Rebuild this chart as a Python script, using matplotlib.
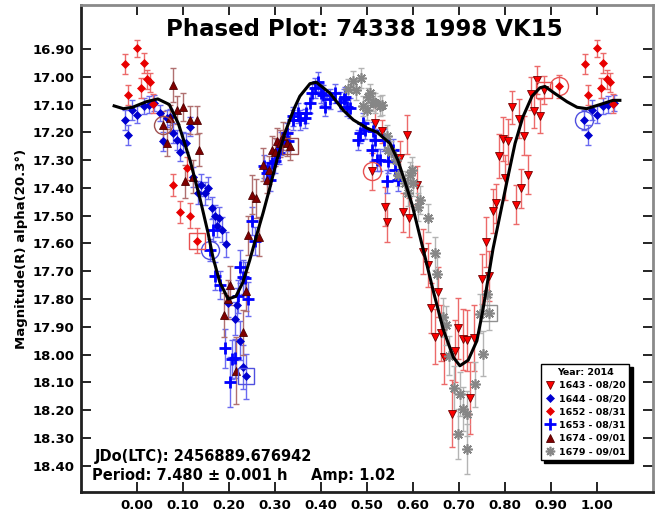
import numpy as np
import matplotlib.pyplot as plt
from matplotlib.lines import Line2D

plt.rcParams['font.family'] = 'DejaVu Sans'
plt.rcParams['font.weight'] = 'bold'

# session 1643 - 08/20 (red, triangle down)
s1643_phase = [0.510, 0.517, 0.532, 0.539, 0.544, 0.572, 0.578, 0.586, 0.592, 0.608,
               0.622, 0.633, 0.640, 0.648, 0.655, 0.660, 0.667, 0.684, 0.691, 0.697,
               0.709, 0.718, 0.724, 0.733, 0.751, 0.759, 0.766, 0.773, 0.780, 0.788,
               0.795, 0.800, 0.807, 0.816, 0.823, 0.830, 0.836, 0.841, 0.850, 0.857,
               0.863, 0.870, 0.876, 0.884]
s1643_mag = [17.341, 17.165, 17.197, 17.467, 17.523, 17.293, 17.487, 17.208, 17.507, 17.390,
             17.629, 17.678, 17.833, 17.935, 17.775, 17.923, 18.007, 18.212, 17.987, 17.905,
             17.944, 17.948, 18.157, 17.940, 17.727, 17.593, 17.717, 17.483, 17.455, 17.286,
             17.225, 17.363, 17.233, 17.110, 17.460, 17.151, 17.401, 17.213, 17.353, 17.061,
             17.124, 17.013, 17.141, 17.047]
s1643_err = [0.065, 0.060, 0.040, 0.070, 0.070, 0.060, 0.070, 0.070, 0.070, 0.070,
             0.080, 0.080, 0.090, 0.100, 0.090, 0.100, 0.100, 0.120, 0.110, 0.110,
             0.110, 0.110, 0.130, 0.120, 0.090, 0.090, 0.090, 0.080, 0.070, 0.080,
             0.080, 0.080, 0.080, 0.060, 0.070, 0.070, 0.070, 0.070, 0.070, 0.060,
             0.060, 0.050, 0.060, 0.050]

# session 1644 - 08/20 (blue, diamond)
s1644_phase = [0.973, 0.981, 0.989, 0.000, 0.014, 0.025, 0.037, 0.050, 0.056, 0.064,
               0.072, 0.079, 0.086, 0.093, 0.099, 0.107, 0.114, 0.121, 0.133, 0.140,
               0.148, 0.155, 0.162, 0.170, 0.173, 0.179, 0.184, 0.193, 0.197, 0.213,
               0.218, 0.224, 0.231, 0.237]
s1644_mag = [17.155, 17.210, 17.120, 17.137, 17.105, 17.100, 17.095, 17.130, 17.233, 17.150,
             17.145, 17.203, 17.227, 17.270, 17.235, 17.237, 17.180, 17.360, 17.417, 17.390,
             17.420, 17.400, 17.473, 17.500, 17.537, 17.510, 17.550, 17.603, 17.813, 17.870,
             17.820, 17.950, 18.045, 18.078]
s1644_err = [0.035, 0.035, 0.035, 0.030, 0.030, 0.030, 0.030, 0.030, 0.035, 0.030,
             0.030, 0.035, 0.035, 0.035, 0.035, 0.035, 0.035, 0.035, 0.040, 0.040,
             0.040, 0.040, 0.040, 0.040, 0.040, 0.040, 0.045, 0.045, 0.050, 0.060,
             0.060, 0.070, 0.080, 0.080]

# session 1652 - 08/31 (red, diamond)
s1652_phase = [0.974, 0.981, 0.000, 0.008, 0.014, 0.021, 0.028, 0.034, 0.079, 0.094,
               0.108, 0.115, 0.130, 0.917]
s1652_mag = [16.955, 17.065, 16.898, 17.040, 16.950, 17.010, 17.020, 17.097, 17.390, 17.487,
             17.330, 17.500, 17.590, 17.035]
s1652_err = [0.035, 0.035, 0.030, 0.035, 0.035, 0.035, 0.035, 0.035, 0.040, 0.040,
             0.040, 0.045, 0.045, 0.040]

# session 1653 - 08/31 (blue, plus)
s1653_phase = [0.159, 0.164, 0.170, 0.181, 0.191, 0.201, 0.206, 0.213, 0.220, 0.224,
               0.231, 0.235, 0.242, 0.249, 0.257, 0.275, 0.282, 0.289, 0.293, 0.300,
               0.304, 0.309, 0.314, 0.325, 0.329, 0.338, 0.340, 0.351, 0.354, 0.365,
               0.368, 0.376, 0.380, 0.387, 0.394, 0.400, 0.405, 0.409, 0.420, 0.430,
               0.441, 0.449, 0.452, 0.456, 0.463, 0.481, 0.485, 0.492, 0.496, 0.510,
               0.514, 0.517, 0.521, 0.528, 0.536, 0.543, 0.546, 0.557, 0.561, 0.568]
s1653_mag = [17.623, 17.550, 17.717, 17.750, 17.977, 18.097, 18.016, 18.013, 17.790, 17.683,
             17.720, 17.725, 17.800, 17.520, 17.590, 17.323, 17.347, 17.371, 17.311, 17.305,
             17.263, 17.275, 17.240, 17.203, 17.233, 17.155, 17.143, 17.130, 17.155, 17.150,
             17.131, 17.095, 17.060, 17.041, 17.018, 17.060, 17.065, 17.108, 17.080, 17.060,
             17.090, 17.080, 17.072, 17.108, 17.113, 17.227, 17.203, 17.167, 17.190, 17.263,
             17.197, 17.227, 17.300, 17.300, 17.227, 17.377, 17.305, 17.263, 17.335, 17.371]
s1653_err = [0.040, 0.040, 0.050, 0.050, 0.070, 0.090, 0.070, 0.070, 0.060, 0.060,
             0.060, 0.060, 0.060, 0.050, 0.050, 0.040, 0.040, 0.040, 0.040, 0.040,
             0.040, 0.040, 0.040, 0.035, 0.035, 0.035, 0.035, 0.035, 0.035, 0.035,
             0.035, 0.035, 0.035, 0.035, 0.035, 0.035, 0.035, 0.035, 0.035, 0.035,
             0.035, 0.035, 0.035, 0.035, 0.035, 0.035, 0.035, 0.035, 0.035, 0.040,
             0.035, 0.040, 0.040, 0.040, 0.040, 0.040, 0.040, 0.040, 0.040, 0.040]

# session 1674 - 09/01 (maroon, triangle up)
s1674_phase = [0.057, 0.064, 0.072, 0.079, 0.087, 0.100, 0.104, 0.114, 0.122, 0.130,
               0.135, 0.189, 0.197, 0.203, 0.215, 0.231, 0.237, 0.242, 0.250, 0.259,
               0.266, 0.273, 0.282, 0.286, 0.293, 0.300, 0.304, 0.311, 0.318, 0.327,
               0.333]
s1674_mag = [17.175, 17.237, 17.150, 17.030, 17.120, 17.110, 17.377, 17.155, 17.360, 17.157,
             17.262, 17.857, 17.800, 17.750, 18.058, 17.920, 17.772, 17.570, 17.425, 17.437,
             17.575, 17.317, 17.370, 17.335, 17.263, 17.270, 17.233, 17.240, 17.214, 17.237,
             17.250]
s1674_err = [0.050, 0.050, 0.050, 0.060, 0.050, 0.050, 0.060, 0.050, 0.060, 0.050,
             0.060, 0.080, 0.070, 0.070, 0.120, 0.080, 0.070, 0.070, 0.070, 0.070,
             0.070, 0.060, 0.050, 0.050, 0.050, 0.050, 0.050, 0.050, 0.050, 0.050,
             0.050]

# session 1679 - 09/01 (gray, asterisk)
s1679_phase = [0.459, 0.470, 0.477, 0.488, 0.492, 0.499, 0.503, 0.507, 0.514, 0.517,
               0.528, 0.532, 0.543, 0.546, 0.553, 0.564, 0.568, 0.583, 0.590, 0.593,
               0.597, 0.601, 0.612, 0.615, 0.633, 0.648, 0.653, 0.666, 0.672, 0.679,
               0.690, 0.697, 0.703, 0.709, 0.718, 0.717, 0.734, 0.745, 0.752, 0.760,
               0.766]
s1679_mag = [17.045, 17.014, 17.047, 17.005, 17.105, 17.119, 17.074, 17.060, 17.090, 17.095,
             17.105, 17.101, 17.215, 17.263, 17.270, 17.300, 17.353, 17.383, 17.419, 17.353,
             17.335, 17.383, 17.469, 17.443, 17.509, 17.635, 17.708, 17.866, 17.894, 18.004,
             18.121, 18.287, 18.142, 18.196, 18.212, 18.340, 18.107, 17.853, 17.996, 17.782,
             17.851]
s1679_err = [0.035, 0.035, 0.035, 0.035, 0.035, 0.035, 0.035, 0.035, 0.035, 0.035,
             0.035, 0.035, 0.040, 0.040, 0.040, 0.040, 0.040, 0.045, 0.045, 0.045,
             0.045, 0.045, 0.050, 0.050, 0.050, 0.060, 0.060, 0.070, 0.070, 0.070,
             0.080, 0.090, 0.080, 0.080, 0.080, 0.090, 0.080, 0.070, 0.080, 0.060,
             0.060]

# first / last points of sessions (circle = first, square = last)
circle_phase = [0.510, 0.973, 0.917, 0.159, 0.057]
circle_mag = [17.341, 17.155, 17.035, 17.623, 17.175]
circle_color = ['#e85050', '#5050e0', '#e85050', '#5050e0', '#a05050']
square_phase = [0.884, 0.237, 0.130, 0.333, 0.766]
square_mag = [17.047, 18.078, 17.590, 17.250, 17.851]
square_color = ['#e85050', '#5050e0', '#e85050', '#a05050', '#909090']

# Fourier fit curve
fit_phase = [-0.050, -0.030, -0.010, 0.020, 0.045, 0.070, 0.090, 0.115, 0.137, 0.154,
             0.165, 0.180, 0.198, 0.215, 0.230, 0.245, 0.260, 0.274, 0.287, 0.304,
             0.322, 0.340, 0.354, 0.376, 0.390, 0.420, 0.448, 0.470, 0.500, 0.522,
             0.550, 0.567, 0.583, 0.598, 0.622, 0.644, 0.666, 0.688, 0.702, 0.720,
             0.739, 0.752, 0.763, 0.774, 0.789, 0.804, 0.822, 0.839, 0.859, 0.876,
             0.887, 0.904, 0.935, 0.957, 0.978, 1.007, 1.035, 1.050]
fit_mag = [17.105, 17.115, 17.110, 17.090, 17.080, 17.100, 17.170, 17.300, 17.440, 17.560,
           17.650, 17.740, 17.800, 17.790, 17.740, 17.660, 17.570, 17.490, 17.410, 17.300,
           17.200, 17.120, 17.070, 17.025, 17.020, 17.060, 17.120, 17.155, 17.185, 17.200,
           17.240, 17.300, 17.380, 17.460, 17.620, 17.770, 17.910, 18.010, 18.040, 18.020,
           17.950, 17.840, 17.730, 17.620, 17.500, 17.380, 17.240, 17.145, 17.070, 17.040,
           17.035, 17.055, 17.090, 17.110, 17.115, 17.100, 17.085, 17.085]

x_ticks = [0.0, 0.1, 0.2, 0.3, 0.4, 0.5, 0.6, 0.7, 0.8, 0.9, 1.0]
y_ticks = [16.9, 17.0, 17.1, 17.2, 17.3, 17.4, 17.5, 17.6, 17.7, 17.8, 17.9, 18.0, 18.1, 18.2, 18.3, 18.4]


def wrap(phase, mag, err, lo=-0.05, hi=1.045):
    phase = np.asarray(phase, dtype=float)
    p = np.concatenate([phase, phase - 1, phase + 1])
    m = np.tile(np.asarray(mag, dtype=float), 3)
    e = np.tile(np.asarray(err, dtype=float), 3)
    keep = (p >= lo) & (p <= hi)
    return p[keep], m[keep], e[keep]


sessions = [
    (s1643_phase, s1643_mag, s1643_err, 'v', '#ff0000', '#700000', '#ec6a6a', 6, 0.6, '1643 - 08/20'),
    (s1644_phase, s1644_mag, s1644_err, 'D', '#0000d0', '#0000d0', '#6a6af0', 4.5, 0.5, '1644 - 08/20'),
    (s1652_phase, s1652_mag, s1652_err, 'D', '#e80000', '#e80000', '#ec6a6a', 4.5, 0.5, '1652 - 08/31'),
    (s1653_phase, s1653_mag, s1653_err, '+', '#0000ff', '#0000ff', '#6a6af0', 9, 2.0, '1653 - 08/31'),
    (s1674_phase, s1674_mag, s1674_err, '^', '#800000', '#500000', '#b07070', 6, 0.6, '1674 - 09/01'),
    (s1679_phase, s1679_mag, s1679_err, (8, 2, 0), '#868686', '#868686', '#b4b4b4', 7.5, 1.2, '1679 - 09/01'),
]

fig = plt.figure(figsize=(6.57, 5.15), dpi=100)
ax = fig.add_axes([0.1233, 0.0447, 0.8706, 0.9456])

handles = []
for ph, mg, er, mk, fc, ec, errc, ms, mew, lab in sessions:
    p, m, e = wrap(ph, mg, er)
    ax.errorbar(p, m, yerr=e, fmt='none', ecolor=errc, elinewidth=1.0, capsize=2.5, capthick=1.0, zorder=2)
    ax.plot(p, m, linestyle='none', marker=mk, markersize=ms, markerfacecolor=fc,
            markeredgecolor=ec, markeredgewidth=mew, color=fc, zorder=3)
    handles.append(Line2D([], [], linestyle='none', marker=mk, markersize=ms * 0.9,
                          markerfacecolor=fc, markeredgecolor=ec,
                          markeredgewidth=mew, color=fc, label=lab))

for cp, cm, cc in zip(circle_phase, circle_mag, circle_color):
    ax.plot(cp, cm, linestyle='none', marker='o', markersize=13, markerfacecolor='none',
            markeredgecolor=cc, markeredgewidth=1.0, zorder=4)
for sp, sm, sc in zip(square_phase, square_mag, square_color):
    ax.plot(sp, sm, linestyle='none', marker='s', markersize=12, markerfacecolor='none',
            markeredgecolor=sc, markeredgewidth=1.0, zorder=4)

ax.plot(fit_phase, fit_mag, color='black', linewidth=2.2, zorder=5)

ax.set_xlim(-0.122, 1.122)
ax.set_ylim(18.494, 16.742)
ax.set_xticks(x_ticks)
ax.set_xticklabels([f'{t:.2f}' for t in x_ticks], fontsize=9.5, fontweight='bold')
ax.set_yticks(y_ticks)
ax.set_yticklabels([f'{t:.2f}' for t in y_ticks], fontsize=9.5, fontweight='bold')
ax.tick_params(direction='in', length=7, width=1.2, top=True, right=True, pad=5)
ax.set_ylabel('Magnitude(R) alpha(20.3°)', fontsize=9.5, fontweight='bold', labelpad=3)

for side in ('left', 'bottom'):
    ax.spines[side].set_linewidth(2.0)
    ax.spines[side].set_color('#202020')
for side in ('top', 'right'):
    ax.spines[side].set_linewidth(2.0)
    ax.spines[side].set_color('#8a8a8a')

ax.text(0.495, 0.949, 'Phased Plot: 74338 1998 VK15', transform=ax.transAxes,
        ha='center', va='center', fontsize=16.5, fontweight='bold')
ax.text(0.0245, 0.072, 'JDo(LTC): 2456889.676942', transform=ax.transAxes,
        ha='left', va='center', fontsize=10.5, fontweight='bold')
ax.text(0.019, 0.033, 'Period: 7.480 ± 0.001 h', transform=ax.transAxes,
        ha='left', va='center', fontsize=10.5, fontweight='bold')
ax.text(0.402, 0.033, 'Amp: 1.02', transform=ax.transAxes,
        ha='left', va='center', fontsize=10.5, fontweight='bold')

leg = ax.legend(handles=handles, title='Year: 2014', loc='lower right',
                bbox_to_anchor=(0.962, 0.062), fontsize=6.8, title_fontsize=6.8,
                frameon=True, fancybox=False, shadow={'color': 'black', 'alpha': 1.0, 'ox': 2.5, 'oy': -2.5},
                edgecolor='black', labelspacing=0.45, handletextpad=0.3,
                handlelength=1.2, borderpad=0.4, borderaxespad=0.2)
leg.get_frame().set_linewidth(1.0)
leg.get_title().set_fontweight('bold')
for t in leg.get_texts():
    t.set_fontweight('bold')

fig.savefig('out.png', dpi=100)
